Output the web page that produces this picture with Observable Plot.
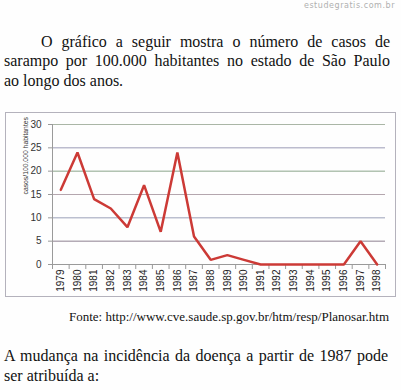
<!DOCTYPE html>
<html>
<head>
<meta charset="utf-8">
<script src="https://cdn.jsdelivr.net/npm/d3@7"></script>
<script src="https://cdn.jsdelivr.net/npm/@observablehq/plot@0.6"></script>
<style>
  html, body { margin: 0; padding: 0; background: #fefefe; }
  body { width: 401px; height: 390px; position: relative; overflow: hidden; font-family: "Liberation Serif", "Times New Roman", serif; color: #111; }
  .t { position: absolute; white-space: nowrap; }
  .s16 { font-size: 16px; line-height: 16px; }
  .just { text-align: justify; text-align-last: justify; white-space: normal; }
  #site { position: absolute; top: 1.5px; right: 6px; font-family: "DejaVu Sans", sans-serif; font-size: 8px; line-height: 8px; color: #b0b0b0; letter-spacing: 0.55px; }
  #box { position: absolute; left: 5px; top: 112px; width: 391px; height: 185px; box-sizing: border-box; border: 1px solid #b4b2bc; }
  #box svg { display: block; }
  #fonte { position: absolute; top: 310px; right: 12px; font-size: 13px; line-height: 13px; white-space: nowrap; }
</style>
</head>
<body>
<div id="site">estudegratis.com.br</div>
<div class="t s16 just" style="left:4px; width:386px; top:34px; text-indent:37px;">O gráfico a seguir mostra o número de casos de</div>
<div class="t s16 just" style="left:4px; width:386px; top:53px;">sarampo por 100.000 habitantes no estado de São Paulo</div>
<div class="t s16" style="left:4px; top:72.5px;">ao longo dos anos.</div>
<div id="box"></div>
<div id="fonte">Fonte: http://www.cve.saude.sp.gov.br/htm/resp/Planosar.htm</div>
<div class="t s16 just" style="left:4px; width:384px; top:347.6px;">A mudança na incidência da doença a partir de 1987 pode</div>
<div class="t s16" style="left:4px; top:367.6px;">ser atribuída a:</div>
<script>
const years = [1979, 1980, 1981, 1982, 1983, 1984, 1985, 1986, 1987, 1988, 1989, 1990, 1991, 1992, 1993, 1994, 1995, 1996, 1997, 1998];
const cases = [16, 24, 14, 12, 8, 17, 7, 24, 6, 1, 2, 1, 0, 0, 0, 0, 0, 0, 5, 0];
const yTicks = [0, 5, 10, 15, 20, 25, 30];
const yLabel = "casos/100.000 habitantes";

const data = years.map((year, i) => ({year, value: cases[i]}));
const boundaries = [...years.map(y => y - 0.5), years[years.length - 1] + 0.5];
const gridColor = {5: "#8e8090", 10: "#9aa0b8", 15: "#b4a6ae", 20: "#8aa48a", 25: "#9c9cb6", 30: "#aab6a6"};
const grid = yTicks.filter(d => d > 0).map(v => ({v, c: gridColor[v]}));

const chart = Plot.plot({
  width: 389,
  height: 183,
  marginLeft: 46,
  marginRight: 10,
  marginTop: 11,
  marginBottom: 32,
  style: {fontFamily: "'Liberation Sans', Arial, sans-serif", fontSize: "10px", color: "#222", background: "transparent"},
  x: {type: "linear", domain: [boundaries[0], boundaries[boundaries.length - 1]], axis: null},
  y: {domain: [0, 30], axis: null},
  color: {type: "identity"},
  marks: [
    Plot.ruleY(grid, {y: "v", stroke: "c", strokeWidth: 1}),
    Plot.ruleY([0], {stroke: "#9a9a9a"}),
    Plot.ruleX([boundaries[0]], {y1: 0, y2: 30, stroke: "#9a9a9a"}),
    Plot.ruleX(boundaries, {y1: 0, y2: 0, insetBottom: -5, stroke: "#9a9a9a"}),
    Plot.axisY({ticks: yTicks, tickSize: 4, tickPadding: 7, label: null, stroke: "#9a9a9a", fill: "#333", fontSize: 10}),
    Plot.axisX({ticks: years, tickFormat: d => String(d), tickRotate: -90, tickSize: 0, tickPadding: 5, label: null, fill: "#222", fontSize: 10}),
    Plot.line(data, {x: "year", y: "value", stroke: "#cc3a36", strokeWidth: 2.5, strokeLinejoin: "miter"}),
    Plot.text([yLabel], {frameAnchor: "left", rotate: -90, dx: -27, fontSize: 6.8, fill: "#333"})
  ]
});
document.getElementById("box").appendChild(chart);
</script>
</body>
</html>
